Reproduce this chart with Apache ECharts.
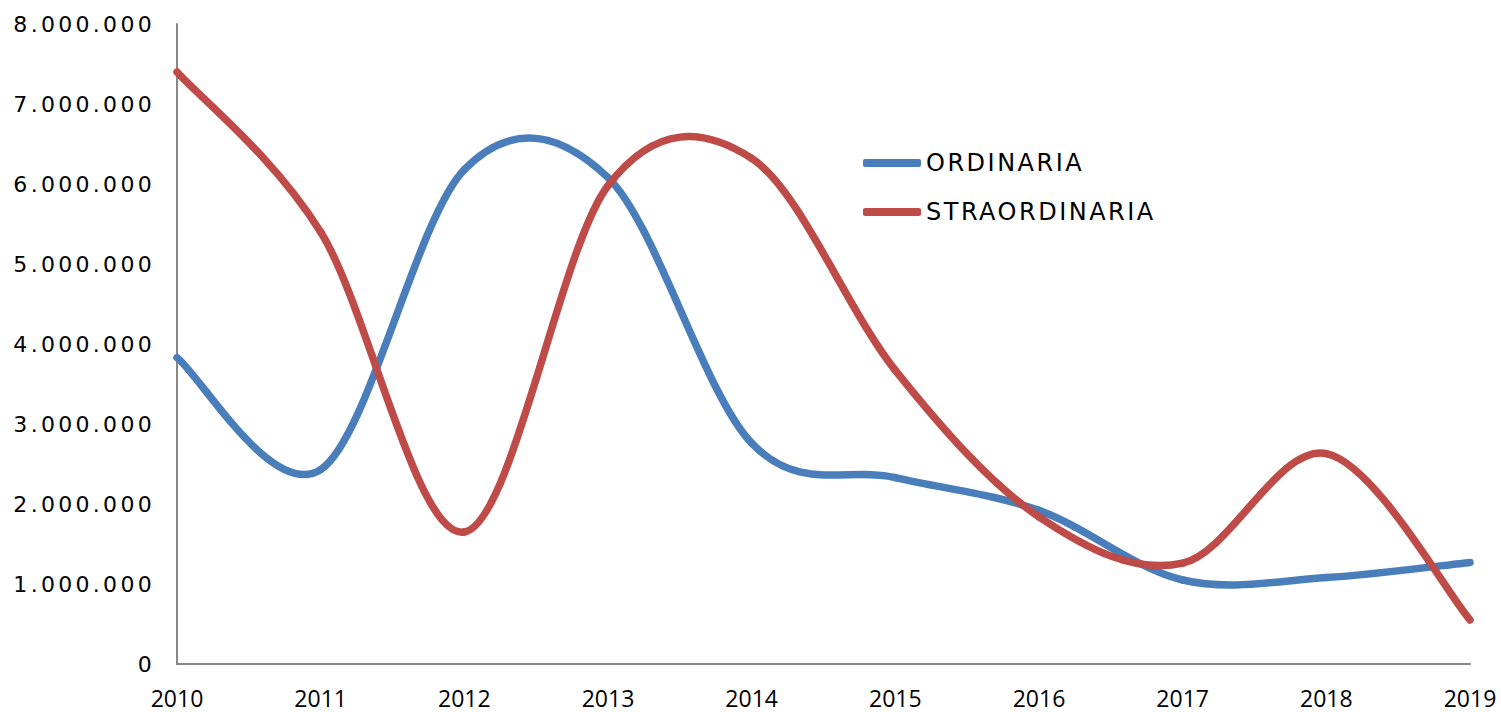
<!DOCTYPE html>
<html>
<head>
<meta charset="utf-8">
<script src="https://cdn.jsdelivr.net/npm/echarts@6/dist/echarts.min.js"></script>
<style>
  html, body { margin: 0; padding: 0; background: #fff; }
  #chart { width: 1501px; height: 712px; }
  /* spaced-out lettering of the y labels and legend */
  #chart text[style*="22px"] { letter-spacing: 3.3px; }
  #chart text[style*="24px"] { letter-spacing: 2.5px; }
</style>
</head>
<body>
<div id="chart"></div>
<script>
const years = ["2010", "2011", "2012", "2013", "2014", "2015", "2016", "2017", "2018", "2019"];
const ordinaria = [3830000, 2430000, 6180000, 6080000, 2760000, 2330000, 1920000, 1050000, 1080000, 1270000];
const straordinaria = [7400000, 5400000, 1650000, 5980000, 6320000, 3670000, 1840000, 1260000, 2630000, 550000];
const yTicks = { min: 0, max: 8000000, interval: 1000000 };

const fmt = (v) => String(v).replace(/\B(?=(\d{3})+(?!\d))/g, ".");

// excel-like smoothing: catmull-rom segments between neighbouring points
const smoothLine = (values, color) => (params, api) => {
  const i = params.dataIndex;
  const n = values.length;
  if (i >= n - 1) return;
  const pt = (k) => {
    k = Math.max(0, Math.min(n - 1, k));
    return api.coord([k, values[k]]);
  };
  const p0 = pt(i - 1), p1 = pt(i), p2 = pt(i + 1), p3 = pt(i + 2);
  return {
    type: "bezierCurve",
    shape: {
      x1: p1[0], y1: p1[1],
      x2: p2[0], y2: p2[1],
      cpx1: p1[0] + (p2[0] - p0[0]) / 6,
      cpy1: p1[1] + (p2[1] - p0[1]) / 6,
      cpx2: p2[0] - (p3[0] - p1[0]) / 6,
      cpy2: p2[1] - (p3[1] - p1[1]) / 6,
    },
    style: { stroke: color, lineWidth: 7.5, fill: null, lineCap: "round" },
  };
};

const chart = echarts.init(document.getElementById("chart"), null, { renderer: "svg" });
const option = {
  animation: false,
  backgroundColor: "#fff",
  grid: { left: 177, right: 31, top: 24, bottom: 48 },
  legend: {
    orient: "vertical",
    left: 858,
    top: 146,
    itemGap: 25,
    itemWidth: 58,
    itemHeight: 8,
    icon: "roundRect",
    textStyle: { fontFamily: "DejaVu Sans", fontSize: 24, color: "#000" },
    data: ["ORDINARIA", "STRAORDINARIA"],
  },
  xAxis: {
    type: "category",
    data: years,
    boundaryGap: false,
    axisLine: { lineStyle: { color: "#888", width: 2 } },
    axisTick: { show: false },
    axisLabel: { margin: 22, fontFamily: "Open Sans", fontSize: 23, color: "#000" },
  },
  yAxis: {
    type: "value",
    min: yTicks.min,
    max: yTicks.max,
    interval: yTicks.interval,
    axisLine: { show: true, lineStyle: { color: "#888", width: 2 } },
    axisTick: { show: false },
    splitLine: { show: false },
    axisLabel: { margin: 22, fontFamily: "DejaVu Sans", fontSize: 22, color: "#000", formatter: fmt },
  },
  series: [
    {
      name: "ORDINARIA",
      type: "custom",
      data: ordinaria.map((v, i) => [i, v]),
      encode: { x: 0, y: 1 },
      renderItem: smoothLine(ordinaria, "#4a7ebb"),
      itemStyle: { color: "#4a7ebb" },
    },
    {
      name: "STRAORDINARIA",
      type: "custom",
      data: straordinaria.map((v, i) => [i, v]),
      encode: { x: 0, y: 1 },
      renderItem: smoothLine(straordinaria, "#be4b48"),
      itemStyle: { color: "#be4b48" },
    },
  ],
};
chart.setOption(option);
</script>
</body>
</html>
